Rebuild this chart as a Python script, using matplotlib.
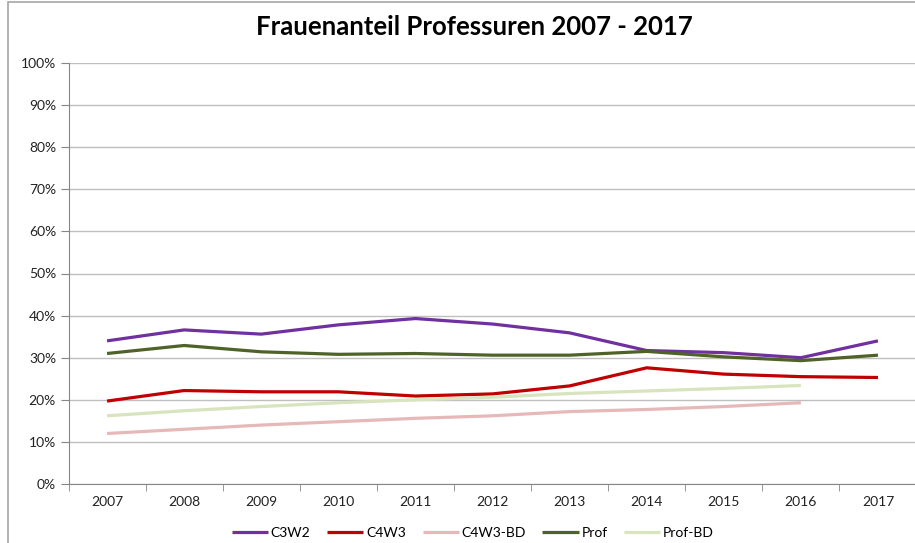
import matplotlib.pyplot as plt
from matplotlib.ticker import PercentFormatter, FixedLocator
from matplotlib.patches import Rectangle

plt.rcParams['font.family'] = ['Lato', 'DejaVu Sans']

years = ['2007', '2008', '2009', '2010', '2011', '2012', '2013', '2014', '2015', '2016', '2017']
c3w2 = [34.0, 36.6, 35.6, 37.8, 39.3, 38.0, 35.9, 31.7, 31.2, 30.0, 34.0]
c4w3 = [19.7, 22.2, 21.9, 21.9, 20.9, 21.4, 23.3, 27.6, 26.1, 25.5, 25.3]
c4w3_bd = [12.0, 13.0, 14.0, 14.8, 15.6, 16.2, 17.2, 17.7, 18.4, 19.3]
prof = [31.0, 32.9, 31.4, 30.8, 31.0, 30.6, 30.6, 31.5, 30.2, 29.3, 30.6]
prof_bd = [16.2, 17.4, 18.4, 19.3, 20.0, 20.6, 21.5, 22.1, 22.7, 23.4]

series = [
    ('C3W2', c3w2, '#7030A0'),
    ('C4W3', c4w3, '#C00000'),
    ('C4W3-BD', c4w3_bd, '#E6B9B8'),
    ('Prof', prof, '#4F6228'),
    ('Prof-BD', prof_bd, '#D7E4BD'),
]

fig = plt.figure(figsize=(9.15, 5.43), dpi=100)
# chart area border
fig.patches.append(Rectangle((8 / 915, -0.1), 1.0, 1.1 - 2 / 543, transform=fig.transFigure,
                             fill=False, edgecolor='#A6A6A6', linewidth=1.2))
ax = fig.add_axes([68.5 / 915, 1 - 484 / 543, 848 / 915, 421 / 543])

for name, vals, col in series:
    ax.plot(range(len(vals)), vals, color=col, linewidth=2.3, label=name, solid_capstyle='butt')

ax.set_xlim(-0.5, len(years) - 0.5)
ax.set_ylim(0, 100)
ax.set_yticks(range(0, 101, 10))
ax.yaxis.set_major_formatter(PercentFormatter(decimals=0))
ax.set_xticks(range(len(years)))
ax.set_xticklabels(years)
ax.xaxis.set_minor_locator(FixedLocator([i + 0.5 for i in range(-1, len(years))]))
ax.tick_params(axis='x', which='major', length=0, pad=9, labelsize=10, labelcolor='#222222')
ax.tick_params(axis='x', which='minor', length=5, color='#868686')
ax.tick_params(axis='y', length=6, color='#868686', labelsize=10, labelcolor='#222222', pad=3)
ax.grid(axis='y', color='#BFBFBF', linewidth=1)
ax.set_axisbelow(True)
for s in ['top', 'right']:
    ax.spines[s].set_visible(False)
ax.spines['left'].set_color('#868686')
ax.spines['bottom'].set_color('#868686')

fig.text(474 / 915, 1 - 27 / 543, 'Frauenanteil Professuren 2007 - 2017', ha='center', va='center',
         fontsize=18.5, fontweight='bold')

fig.legend(loc='center', bbox_to_anchor=(473 / 915, 1 - 533 / 543), ncol=5, frameon=False,
           fontsize=10, handlelength=2.6, columnspacing=1.2, handletextpad=0.2,
           borderpad=0.1)

fig.savefig('out.png', dpi=100)
